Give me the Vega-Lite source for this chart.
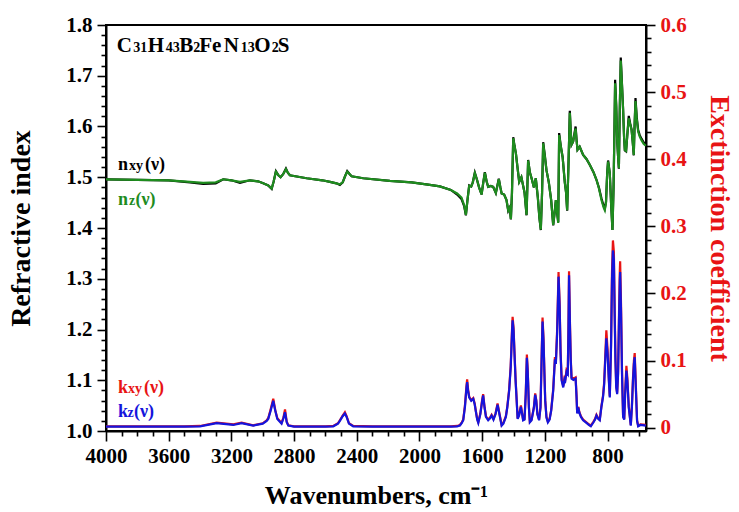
{
  "$schema": "https://vega.github.io/schema/vega-lite/v6.json",
  "width": 540,
  "height": 406,
  "autosize": {"type": "none"},
  "padding": {"left": 106, "top": 25, "right": 93, "bottom": 81},
  "background": "white",
  "config": {
    "view": {"stroke": "black", "strokeWidth": 2},
    "font": "Liberation Serif",
    "text": {"font": "Liberation Serif", "fontWeight": "bold", "align": "left", "baseline": "alphabetic"},
    "axis": {
      "grid": false,
      "labelFont": "Liberation Serif",
      "labelFontWeight": "bold",
      "labelFontSize": 21,
      "titleFont": "Liberation Serif",
      "titleFontWeight": "bold",
      "domainColor": "black",
      "domainWidth": 2,
      "tickColor": "black",
      "tickWidth": 1.6,
      "labelColor": "black",
      "titleColor": "black",
      "labelOverlap": false,
      "labelFlush": false,
      "labelBound": false
    }
  },
  "datasets": {
    "n": [
      {"wn": 4000, "nxy": 1.496, "nz": 1.496},
      {"wn": 3800, "nxy": 1.495, "nz": 1.495},
      {"wn": 3600, "nxy": 1.494, "nz": 1.494},
      {"wn": 3464, "nxy": 1.490, "nz": 1.491},
      {"wn": 3380, "nxy": 1.487, "nz": 1.489},
      {"wn": 3300, "nxy": 1.488, "nz": 1.490},
      {"wn": 3252, "nxy": 1.496, "nz": 1.496},
      {"wn": 3200, "nxy": 1.494, "nz": 1.494},
      {"wn": 3145, "nxy": 1.489, "nz": 1.491},
      {"wn": 3082, "nxy": 1.494, "nz": 1.494},
      {"wn": 3030, "nxy": 1.492, "nz": 1.492},
      {"wn": 2997, "nxy": 1.488, "nz": 1.488},
      {"wn": 2965, "nxy": 1.484, "nz": 1.484},
      {"wn": 2943, "nxy": 1.477, "nz": 1.478},
      {"wn": 2930, "nxy": 1.492, "nz": 1.492},
      {"wn": 2916, "nxy": 1.512, "nz": 1.511},
      {"wn": 2900, "nxy": 1.504, "nz": 1.504},
      {"wn": 2886, "nxy": 1.500, "nz": 1.500},
      {"wn": 2870, "nxy": 1.506, "nz": 1.506},
      {"wn": 2852, "nxy": 1.517, "nz": 1.516},
      {"wn": 2840, "nxy": 1.509, "nz": 1.509},
      {"wn": 2827, "nxy": 1.504, "nz": 1.504},
      {"wn": 2720, "nxy": 1.498, "nz": 1.498},
      {"wn": 2620, "nxy": 1.494, "nz": 1.494},
      {"wn": 2571, "nxy": 1.491, "nz": 1.491},
      {"wn": 2530, "nxy": 1.488, "nz": 1.488},
      {"wn": 2508, "nxy": 1.485, "nz": 1.486},
      {"wn": 2490, "nxy": 1.490, "nz": 1.490},
      {"wn": 2475, "nxy": 1.502, "nz": 1.502},
      {"wn": 2461, "nxy": 1.512, "nz": 1.511},
      {"wn": 2445, "nxy": 1.506, "nz": 1.506},
      {"wn": 2433, "nxy": 1.502, "nz": 1.502},
      {"wn": 2359, "nxy": 1.498, "nz": 1.498},
      {"wn": 2189, "nxy": 1.493, "nz": 1.493},
      {"wn": 2050, "nxy": 1.490, "nz": 1.490},
      {"wn": 1934, "nxy": 1.485, "nz": 1.485},
      {"wn": 1870, "nxy": 1.482, "nz": 1.482},
      {"wn": 1800, "nxy": 1.475, "nz": 1.475},
      {"wn": 1760, "nxy": 1.466, "nz": 1.468},
      {"wn": 1732, "nxy": 1.457, "nz": 1.460},
      {"wn": 1715, "nxy": 1.443, "nz": 1.445},
      {"wn": 1704, "nxy": 1.425, "nz": 1.426},
      {"wn": 1694, "nxy": 1.455, "nz": 1.455},
      {"wn": 1683, "nxy": 1.484, "nz": 1.483},
      {"wn": 1670, "nxy": 1.482, "nz": 1.482},
      {"wn": 1660, "nxy": 1.490, "nz": 1.490},
      {"wn": 1647, "nxy": 1.509, "nz": 1.508},
      {"wn": 1635, "nxy": 1.497, "nz": 1.497},
      {"wn": 1620, "nxy": 1.480, "nz": 1.480},
      {"wn": 1604, "nxy": 1.466, "nz": 1.466},
      {"wn": 1593, "nxy": 1.490, "nz": 1.490},
      {"wn": 1583, "nxy": 1.510, "nz": 1.509},
      {"wn": 1572, "nxy": 1.492, "nz": 1.492},
      {"wn": 1562, "nxy": 1.481, "nz": 1.481},
      {"wn": 1545, "nxy": 1.483, "nz": 1.483},
      {"wn": 1530, "nxy": 1.481, "nz": 1.481},
      {"wn": 1513, "nxy": 1.469, "nz": 1.469},
      {"wn": 1494, "nxy": 1.497, "nz": 1.496},
      {"wn": 1484, "nxy": 1.480, "nz": 1.480},
      {"wn": 1476, "nxy": 1.468, "nz": 1.468},
      {"wn": 1460, "nxy": 1.466, "nz": 1.466},
      {"wn": 1445, "nxy": 1.455, "nz": 1.455},
      {"wn": 1434, "nxy": 1.434, "nz": 1.435},
      {"wn": 1425, "nxy": 1.440, "nz": 1.440},
      {"wn": 1417, "nxy": 1.417, "nz": 1.418},
      {"wn": 1410, "nxy": 1.470, "nz": 1.470},
      {"wn": 1402, "nxy": 1.579, "nz": 1.577},
      {"wn": 1394, "nxy": 1.562, "nz": 1.562},
      {"wn": 1385, "nxy": 1.547, "nz": 1.547},
      {"wn": 1375, "nxy": 1.520, "nz": 1.520},
      {"wn": 1364, "nxy": 1.491, "nz": 1.491},
      {"wn": 1350, "nxy": 1.500, "nz": 1.500},
      {"wn": 1340, "nxy": 1.485, "nz": 1.485},
      {"wn": 1330, "nxy": 1.470, "nz": 1.470},
      {"wn": 1317, "nxy": 1.425, "nz": 1.426},
      {"wn": 1307, "nxy": 1.534, "nz": 1.533},
      {"wn": 1296, "nxy": 1.510, "nz": 1.510},
      {"wn": 1285, "nxy": 1.498, "nz": 1.498},
      {"wn": 1270, "nxy": 1.480, "nz": 1.480},
      {"wn": 1258, "nxy": 1.498, "nz": 1.498},
      {"wn": 1245, "nxy": 1.460, "nz": 1.460},
      {"wn": 1235, "nxy": 1.420, "nz": 1.420},
      {"wn": 1226, "nxy": 1.396, "nz": 1.397},
      {"wn": 1218, "nxy": 1.470, "nz": 1.470},
      {"wn": 1211, "nxy": 1.569, "nz": 1.567},
      {"wn": 1200, "nxy": 1.542, "nz": 1.540},
      {"wn": 1190, "nxy": 1.514, "nz": 1.514},
      {"wn": 1175, "nxy": 1.490, "nz": 1.490},
      {"wn": 1160, "nxy": 1.455, "nz": 1.455},
      {"wn": 1147, "nxy": 1.405, "nz": 1.406},
      {"wn": 1138, "nxy": 1.430, "nz": 1.430},
      {"wn": 1130, "nxy": 1.455, "nz": 1.455},
      {"wn": 1122, "nxy": 1.430, "nz": 1.430},
      {"wn": 1115, "nxy": 1.412, "nz": 1.410},
      {"wn": 1109, "nxy": 1.587, "nz": 1.583},
      {"wn": 1098, "nxy": 1.560, "nz": 1.560},
      {"wn": 1087, "nxy": 1.540, "nz": 1.540},
      {"wn": 1073, "nxy": 1.490, "nz": 1.490},
      {"wn": 1065, "nxy": 1.470, "nz": 1.470},
      {"wn": 1058, "nxy": 1.434, "nz": 1.435},
      {"wn": 1050, "nxy": 1.520, "nz": 1.520},
      {"wn": 1041, "nxy": 1.631, "nz": 1.627},
      {"wn": 1035, "nxy": 1.590, "nz": 1.590},
      {"wn": 1030, "nxy": 1.564, "nz": 1.564},
      {"wn": 1020, "nxy": 1.570, "nz": 1.570},
      {"wn": 1004, "nxy": 1.600, "nz": 1.596},
      {"wn": 997, "nxy": 1.570, "nz": 1.570},
      {"wn": 992, "nxy": 1.554, "nz": 1.554},
      {"wn": 978, "nxy": 1.560, "nz": 1.560},
      {"wn": 956, "nxy": 1.544, "nz": 1.544},
      {"wn": 935, "nxy": 1.536, "nz": 1.536},
      {"wn": 913, "nxy": 1.524, "nz": 1.524},
      {"wn": 890, "nxy": 1.510, "nz": 1.510},
      {"wn": 871, "nxy": 1.495, "nz": 1.495},
      {"wn": 855, "nxy": 1.479, "nz": 1.478},
      {"wn": 839, "nxy": 1.458, "nz": 1.455},
      {"wn": 825, "nxy": 1.443, "nz": 1.440},
      {"wn": 818, "nxy": 1.438, "nz": 1.435},
      {"wn": 810, "nxy": 1.452, "nz": 1.450},
      {"wn": 803, "nxy": 1.506, "nz": 1.505},
      {"wn": 797, "nxy": 1.533, "nz": 1.531},
      {"wn": 786, "nxy": 1.508, "nz": 1.508},
      {"wn": 778, "nxy": 1.450, "nz": 1.450},
      {"wn": 769, "nxy": 1.396, "nz": 1.396},
      {"wn": 762, "nxy": 1.480, "nz": 1.480},
      {"wn": 756, "nxy": 1.600, "nz": 1.600},
      {"wn": 752, "nxy": 1.692, "nz": 1.685},
      {"wn": 745, "nxy": 1.642, "nz": 1.640},
      {"wn": 739, "nxy": 1.573, "nz": 1.573},
      {"wn": 733, "nxy": 1.540, "nz": 1.540},
      {"wn": 728, "nxy": 1.517, "nz": 1.518},
      {"wn": 722, "nxy": 1.640, "nz": 1.640},
      {"wn": 716, "nxy": 1.736, "nz": 1.730},
      {"wn": 708, "nxy": 1.682, "nz": 1.680},
      {"wn": 701, "nxy": 1.633, "nz": 1.633},
      {"wn": 695, "nxy": 1.580, "nz": 1.580},
      {"wn": 690, "nxy": 1.553, "nz": 1.554},
      {"wn": 682, "nxy": 1.551, "nz": 1.552},
      {"wn": 675, "nxy": 1.580, "nz": 1.580},
      {"wn": 665, "nxy": 1.621, "nz": 1.616},
      {"wn": 656, "nxy": 1.606, "nz": 1.605},
      {"wn": 647, "nxy": 1.594, "nz": 1.593},
      {"wn": 640, "nxy": 1.570, "nz": 1.570},
      {"wn": 633, "nxy": 1.543, "nz": 1.544},
      {"wn": 628, "nxy": 1.600, "nz": 1.600},
      {"wn": 622, "nxy": 1.656, "nz": 1.650},
      {"wn": 614, "nxy": 1.618, "nz": 1.615},
      {"wn": 605, "nxy": 1.593, "nz": 1.590},
      {"wn": 595, "nxy": 1.583, "nz": 1.580},
      {"wn": 584, "nxy": 1.576, "nz": 1.573},
      {"wn": 570, "nxy": 1.569, "nz": 1.566},
      {"wn": 556, "nxy": 1.565, "nz": 1.562}
    ],
    "k": [
      {"wn": 4000, "kxy": 0.002, "kz": 0.0015},
      {"wn": 3500, "kxy": 0.002, "kz": 0.0015},
      {"wn": 3400, "kxy": 0.0025, "kz": 0.002},
      {"wn": 3294, "kxy": 0.0075, "kz": 0.0067},
      {"wn": 3188, "kxy": 0.005, "kz": 0.004},
      {"wn": 3135, "kxy": 0.0075, "kz": 0.0067},
      {"wn": 3061, "kxy": 0.0035, "kz": 0.003},
      {"wn": 3000, "kxy": 0.0065, "kz": 0.006},
      {"wn": 2975, "kxy": 0.011, "kz": 0.010},
      {"wn": 2965, "kxy": 0.014, "kz": 0.013},
      {"wn": 2950, "kxy": 0.027, "kz": 0.025},
      {"wn": 2933, "kxy": 0.043, "kz": 0.040},
      {"wn": 2920, "kxy": 0.026, "kz": 0.025},
      {"wn": 2907, "kxy": 0.014, "kz": 0.013},
      {"wn": 2880, "kxy": 0.007, "kz": 0.006},
      {"wn": 2868, "kxy": 0.015, "kz": 0.014},
      {"wn": 2858, "kxy": 0.027, "kz": 0.023},
      {"wn": 2847, "kxy": 0.009, "kz": 0.008},
      {"wn": 2837, "kxy": 0.0035, "kz": 0.003},
      {"wn": 2800, "kxy": 0.002, "kz": 0.0015},
      {"wn": 2600, "kxy": 0.002, "kz": 0.0015},
      {"wn": 2550, "kxy": 0.0025, "kz": 0.002},
      {"wn": 2520, "kxy": 0.0065, "kz": 0.006},
      {"wn": 2508, "kxy": 0.011, "kz": 0.010},
      {"wn": 2490, "kxy": 0.018, "kz": 0.017},
      {"wn": 2476, "kxy": 0.023, "kz": 0.021},
      {"wn": 2465, "kxy": 0.017, "kz": 0.016},
      {"wn": 2450, "kxy": 0.0065, "kz": 0.006},
      {"wn": 2423, "kxy": 0.0025, "kz": 0.002},
      {"wn": 2300, "kxy": 0.002, "kz": 0.0015},
      {"wn": 2000, "kxy": 0.002, "kz": 0.0015},
      {"wn": 1800, "kxy": 0.002, "kz": 0.0015},
      {"wn": 1760, "kxy": 0.0025, "kz": 0.002},
      {"wn": 1742, "kxy": 0.004, "kz": 0.0033},
      {"wn": 1730, "kxy": 0.008, "kz": 0.007},
      {"wn": 1721, "kxy": 0.012, "kz": 0.011},
      {"wn": 1710, "kxy": 0.033, "kz": 0.031},
      {"wn": 1700, "kxy": 0.063, "kz": 0.060},
      {"wn": 1696, "kxy": 0.072, "kz": 0.068},
      {"wn": 1690, "kxy": 0.057, "kz": 0.055},
      {"wn": 1683, "kxy": 0.046, "kz": 0.045},
      {"wn": 1670, "kxy": 0.041, "kz": 0.040},
      {"wn": 1657, "kxy": 0.044, "kz": 0.043},
      {"wn": 1648, "kxy": 0.036, "kz": 0.035},
      {"wn": 1642, "kxy": 0.027, "kz": 0.026},
      {"wn": 1632, "kxy": 0.013, "kz": 0.012},
      {"wn": 1625, "kxy": 0.008, "kz": 0.007},
      {"wn": 1612, "kxy": 0.021, "kz": 0.020},
      {"wn": 1600, "kxy": 0.042, "kz": 0.040},
      {"wn": 1594, "kxy": 0.050, "kz": 0.048},
      {"wn": 1585, "kxy": 0.031, "kz": 0.030},
      {"wn": 1576, "kxy": 0.017, "kz": 0.016},
      {"wn": 1562, "kxy": 0.012, "kz": 0.011},
      {"wn": 1550, "kxy": 0.015, "kz": 0.014},
      {"wn": 1540, "kxy": 0.019, "kz": 0.018},
      {"wn": 1528, "kxy": 0.013, "kz": 0.012},
      {"wn": 1515, "kxy": 0.021, "kz": 0.020},
      {"wn": 1502, "kxy": 0.036, "kz": 0.034},
      {"wn": 1490, "kxy": 0.021, "kz": 0.020},
      {"wn": 1476, "kxy": 0.004, "kz": 0.003},
      {"wn": 1465, "kxy": 0.007, "kz": 0.006},
      {"wn": 1449, "kxy": 0.017, "kz": 0.016},
      {"wn": 1440, "kxy": 0.031, "kz": 0.030},
      {"wn": 1428, "kxy": 0.057, "kz": 0.055},
      {"wn": 1418, "kxy": 0.093, "kz": 0.090},
      {"wn": 1410, "kxy": 0.144, "kz": 0.140},
      {"wn": 1406, "kxy": 0.165, "kz": 0.160},
      {"wn": 1400, "kxy": 0.149, "kz": 0.145},
      {"wn": 1394, "kxy": 0.113, "kz": 0.110},
      {"wn": 1387, "kxy": 0.072, "kz": 0.070},
      {"wn": 1380, "kxy": 0.041, "kz": 0.040},
      {"wn": 1374, "kxy": 0.014, "kz": 0.013},
      {"wn": 1365, "kxy": 0.019, "kz": 0.018},
      {"wn": 1353, "kxy": 0.033, "kz": 0.031},
      {"wn": 1345, "kxy": 0.021, "kz": 0.020},
      {"wn": 1339, "kxy": 0.012, "kz": 0.011},
      {"wn": 1330, "kxy": 0.013, "kz": 0.012},
      {"wn": 1322, "kxy": 0.052, "kz": 0.050},
      {"wn": 1315, "kxy": 0.109, "kz": 0.104},
      {"wn": 1310, "kxy": 0.088, "kz": 0.085},
      {"wn": 1307, "kxy": 0.068, "kz": 0.066},
      {"wn": 1302, "kxy": 0.031, "kz": 0.030},
      {"wn": 1296, "kxy": 0.009, "kz": 0.008},
      {"wn": 1285, "kxy": 0.012, "kz": 0.011},
      {"wn": 1270, "kxy": 0.031, "kz": 0.030},
      {"wn": 1262, "kxy": 0.051, "kz": 0.049},
      {"wn": 1255, "kxy": 0.041, "kz": 0.040},
      {"wn": 1248, "kxy": 0.021, "kz": 0.020},
      {"wn": 1237, "kxy": 0.012, "kz": 0.011},
      {"wn": 1228, "kxy": 0.031, "kz": 0.030},
      {"wn": 1220, "kxy": 0.114, "kz": 0.110},
      {"wn": 1215, "kxy": 0.164, "kz": 0.158},
      {"wn": 1209, "kxy": 0.134, "kz": 0.130},
      {"wn": 1203, "kxy": 0.082, "kz": 0.080},
      {"wn": 1198, "kxy": 0.041, "kz": 0.040},
      {"wn": 1190, "kxy": 0.016, "kz": 0.015},
      {"wn": 1181, "kxy": 0.009, "kz": 0.008},
      {"wn": 1170, "kxy": 0.013, "kz": 0.012},
      {"wn": 1160, "kxy": 0.026, "kz": 0.025},
      {"wn": 1147, "kxy": 0.057, "kz": 0.055},
      {"wn": 1140, "kxy": 0.088, "kz": 0.085},
      {"wn": 1136, "kxy": 0.105, "kz": 0.102},
      {"wn": 1130, "kxy": 0.098, "kz": 0.095},
      {"wn": 1122, "kxy": 0.145, "kz": 0.140},
      {"wn": 1113, "kxy": 0.232, "kz": 0.225},
      {"wn": 1106, "kxy": 0.186, "kz": 0.180},
      {"wn": 1100, "kxy": 0.114, "kz": 0.110},
      {"wn": 1093, "kxy": 0.072, "kz": 0.070},
      {"wn": 1083, "kxy": 0.062, "kz": 0.060},
      {"wn": 1075, "kxy": 0.074, "kz": 0.072},
      {"wn": 1070, "kxy": 0.072, "kz": 0.070},
      {"wn": 1062, "kxy": 0.086, "kz": 0.083},
      {"wn": 1054, "kxy": 0.083, "kz": 0.080},
      {"wn": 1050, "kxy": 0.145, "kz": 0.140},
      {"wn": 1046, "kxy": 0.233, "kz": 0.227},
      {"wn": 1040, "kxy": 0.155, "kz": 0.150},
      {"wn": 1035, "kxy": 0.103, "kz": 0.100},
      {"wn": 1030, "kxy": 0.075, "kz": 0.073},
      {"wn": 1018, "kxy": 0.073, "kz": 0.071},
      {"wn": 1004, "kxy": 0.075, "kz": 0.073},
      {"wn": 998, "kxy": 0.047, "kz": 0.045},
      {"wn": 994, "kxy": 0.022, "kz": 0.021},
      {"wn": 987, "kxy": 0.031, "kz": 0.030},
      {"wn": 980, "kxy": 0.023, "kz": 0.022},
      {"wn": 970, "kxy": 0.017, "kz": 0.016},
      {"wn": 956, "kxy": 0.012, "kz": 0.011},
      {"wn": 935, "kxy": 0.008, "kz": 0.007},
      {"wn": 920, "kxy": 0.005, "kz": 0.004},
      {"wn": 907, "kxy": 0.003, "kz": 0.002},
      {"wn": 890, "kxy": 0.009, "kz": 0.008},
      {"wn": 880, "kxy": 0.013, "kz": 0.012},
      {"wn": 871, "kxy": 0.019, "kz": 0.018},
      {"wn": 860, "kxy": 0.014, "kz": 0.013},
      {"wn": 850, "kxy": 0.012, "kz": 0.011},
      {"wn": 840, "kxy": 0.031, "kz": 0.030},
      {"wn": 829, "kxy": 0.048, "kz": 0.046},
      {"wn": 822, "kxy": 0.067, "kz": 0.064},
      {"wn": 815, "kxy": 0.106, "kz": 0.100},
      {"wn": 808, "kxy": 0.145, "kz": 0.133},
      {"wn": 800, "kxy": 0.116, "kz": 0.110},
      {"wn": 792, "kxy": 0.073, "kz": 0.070},
      {"wn": 786, "kxy": 0.047, "kz": 0.045},
      {"wn": 778, "kxy": 0.126, "kz": 0.120},
      {"wn": 772, "kxy": 0.231, "kz": 0.220},
      {"wn": 766, "kxy": 0.279, "kz": 0.264},
      {"wn": 760, "kxy": 0.262, "kz": 0.250},
      {"wn": 755, "kxy": 0.178, "kz": 0.170},
      {"wn": 750, "kxy": 0.105, "kz": 0.100},
      {"wn": 745, "kxy": 0.063, "kz": 0.060},
      {"wn": 739, "kxy": 0.052, "kz": 0.050},
      {"wn": 733, "kxy": 0.084, "kz": 0.080},
      {"wn": 728, "kxy": 0.158, "kz": 0.150},
      {"wn": 722, "kxy": 0.234, "kz": 0.220},
      {"wn": 720, "kxy": 0.248, "kz": 0.232},
      {"wn": 714, "kxy": 0.180, "kz": 0.170},
      {"wn": 708, "kxy": 0.084, "kz": 0.080},
      {"wn": 701, "kxy": 0.017, "kz": 0.016},
      {"wn": 694, "kxy": 0.013, "kz": 0.012},
      {"wn": 688, "kxy": 0.053, "kz": 0.050},
      {"wn": 680, "kxy": 0.092, "kz": 0.085},
      {"wn": 674, "kxy": 0.074, "kz": 0.070},
      {"wn": 665, "kxy": 0.032, "kz": 0.030},
      {"wn": 652, "kxy": 0.004, "kz": 0.003},
      {"wn": 645, "kxy": 0.032, "kz": 0.030},
      {"wn": 638, "kxy": 0.074, "kz": 0.070},
      {"wn": 632, "kxy": 0.100, "kz": 0.095},
      {"wn": 627, "kxy": 0.111, "kz": 0.105},
      {"wn": 620, "kxy": 0.064, "kz": 0.060},
      {"wn": 612, "kxy": 0.011, "kz": 0.010},
      {"wn": 605, "kxy": 0.003, "kz": 0.002},
      {"wn": 590, "kxy": 0.005, "kz": 0.004},
      {"wn": 556, "kxy": 0.004, "kz": 0.003}
    ]
  },
  "resolve": {"scale": {"y": "independent"}, "axis": {"x": "independent", "y": "independent"}},
  "layer": [
    {
      "resolve": {"axis": {"x": "independent", "y": "independent"}},
      "layer": [
        {
          "data": {"name": "n"},
          "mark": {"type": "line", "color": "black", "strokeWidth": 2.2},
          "encoding": {
            "x": {
              "field": "wn", "type": "quantitative",
              "scale": {"domain": [555, 4000], "reverse": true, "nice": false, "zero": false},
              "axis": {
                "orient": "bottom",
                "values": [4000, 3600, 3200, 2800, 2400, 2000, 1600, 1200, 800],
                "format": "d",
                "tickSize": 10,
                "labelOverlap": false,
                "labelPadding": 4,
                "title": "Wavenumbers, cm⁻¹",
                "titleFontSize": 26,
                "titleX": 270,
                "titleY": 72,
                "titleBaseline": "alphabetic"
              }
            },
            "y": {
              "field": "nxy", "type": "quantitative",
              "scale": {"domain": [1.0, 1.8], "nice": false, "zero": false},
              "axis": {
                "orient": "left",
                "values": [1.0, 1.1, 1.2, 1.3, 1.4, 1.5, 1.6, 1.7, 1.8],
                "format": ".1f",
                "tickSize": 9,
                "labelOverlap": false,
                "labelPadding": 5,
                "title": "Refractive index",
                "titleFontSize": 28,
                "titleX": -77,
                "titleY": 203,
                "titleAngle": 270,
                "titleBaseline": "alphabetic"
              }
            }
          }
        },
        {
          "data": {"name": "n"},
          "mark": {"type": "line", "color": "#1e8c1e", "strokeWidth": 2.2},
          "encoding": {
            "x": {
              "field": "wn", "type": "quantitative",
              "scale": {"domain": [555, 4000], "reverse": true, "nice": false, "zero": false},
              "axis": {
                "orient": "bottom",
                "values": [3900, 3800, 3700, 3500, 3400, 3300, 3100, 3000, 2900, 2700, 2600, 2500, 2300, 2200, 2100, 1900, 1800, 1700, 1500, 1400, 1300, 1100, 1000, 900, 700, 600],
                "tickSize": 5,
                "labels": false,
                "domain": false,
                "title": null
              }
            },
            "y": {
              "field": "nz", "type": "quantitative",
              "scale": {"domain": [1.0, 1.8], "nice": false, "zero": false},
              "axis": {
                "orient": "left",
                "values": [1.02, 1.04, 1.06, 1.08, 1.12, 1.14, 1.16, 1.18, 1.22, 1.24, 1.26, 1.28, 1.32, 1.34, 1.36, 1.38, 1.42, 1.44, 1.46, 1.48, 1.52, 1.54, 1.56, 1.58, 1.62, 1.64, 1.66, 1.68, 1.72, 1.74, 1.76, 1.78],
                "tickSize": 5,
                "labels": false,
                "domain": false,
                "title": null
              }
            }
          }
        },
        {
          "data": {"values": [{}]},
          "encoding": {
            "x": {"datum": 3932, "type": "quantitative", "axis": null, "scale": {"domain": [555, 4000], "reverse": true, "nice": false, "zero": false}},
            "y": {"datum": 1.7474, "type": "quantitative", "axis": null, "scale": {"domain": [1.0, 1.8], "nice": false, "zero": false}}
          },
          "layer": [
            {"mark": {"type": "text", "text": "C", "fontSize": 21, "color": "black", "dx": 0}},
            {"mark": {"type": "text", "text": "31", "fontSize": 14, "color": "black", "dx": 16.5}},
            {"mark": {"type": "text", "text": "H", "fontSize": 21, "color": "black", "dx": 31}},
            {"mark": {"type": "text", "text": "43", "fontSize": 14, "color": "black", "dx": 49}},
            {"mark": {"type": "text", "text": "B", "fontSize": 21, "color": "black", "dx": 62.5}},
            {"mark": {"type": "text", "text": "2", "fontSize": 14, "color": "black", "dx": 76.5}},
            {"mark": {"type": "text", "text": "Fe", "fontSize": 21, "color": "black", "dx": 82.5}},
            {"mark": {"type": "text", "text": "N", "fontSize": 21, "color": "black", "dx": 107}},
            {"mark": {"type": "text", "text": "13", "fontSize": 14, "color": "black", "dx": 124}},
            {"mark": {"type": "text", "text": "O", "fontSize": 21, "color": "black", "dx": 137.5}},
            {"mark": {"type": "text", "text": "2", "fontSize": 14, "color": "black", "dx": 155}},
            {"mark": {"type": "text", "text": "S", "fontSize": 21, "color": "black", "dx": 161}}
          ]
        },
        {
          "data": {"values": [{}]},
          "encoding": {
            "x": {"datum": 3923, "type": "quantitative", "axis": null, "scale": {"domain": [555, 4000], "reverse": true, "nice": false, "zero": false}},
            "y": {"datum": 1.514, "type": "quantitative", "axis": null, "scale": {"domain": [1.0, 1.8], "nice": false, "zero": false}}
          },
          "layer": [
            {"mark": {"type": "text", "text": "n", "fontSize": 18, "color": "black", "dx": 0}},
            {"mark": {"type": "text", "text": "xy", "fontSize": 14, "color": "black", "dx": 11}},
            {"mark": {"type": "text", "text": "(ν)", "fontSize": 18, "color": "black", "dx": 27}}
          ]
        },
        {
          "data": {"values": [{}]},
          "encoding": {
            "x": {"datum": 3923, "type": "quantitative", "axis": null, "scale": {"domain": [555, 4000], "reverse": true, "nice": false, "zero": false}},
            "y": {"datum": 1.445, "type": "quantitative", "axis": null, "scale": {"domain": [1.0, 1.8], "nice": false, "zero": false}}
          },
          "layer": [
            {"mark": {"type": "text", "text": "n", "fontSize": 18, "color": "#1e8c1e", "dx": 0}},
            {"mark": {"type": "text", "text": "z", "fontSize": 14, "color": "#1e8c1e", "dx": 11}},
            {"mark": {"type": "text", "text": "(ν)", "fontSize": 18, "color": "#1e8c1e", "dx": 17.5}}
          ]
        },
        {
          "data": {"values": [{}]},
          "encoding": {
            "x": {"datum": 3923, "type": "quantitative", "axis": null, "scale": {"domain": [555, 4000], "reverse": true, "nice": false, "zero": false}},
            "y": {"datum": 1.075, "type": "quantitative", "axis": null, "scale": {"domain": [1.0, 1.8], "nice": false, "zero": false}}
          },
          "layer": [
            {"mark": {"type": "text", "text": "k", "fontSize": 18, "color": "#e81414", "dx": 0}},
            {"mark": {"type": "text", "text": "xy", "fontSize": 14, "color": "#e81414", "dx": 10}},
            {"mark": {"type": "text", "text": "(ν)", "fontSize": 18, "color": "#e81414", "dx": 26}}
          ]
        },
        {
          "data": {"values": [{}]},
          "encoding": {
            "x": {"datum": 3923, "type": "quantitative", "axis": null, "scale": {"domain": [555, 4000], "reverse": true, "nice": false, "zero": false}},
            "y": {"datum": 1.028, "type": "quantitative", "axis": null, "scale": {"domain": [1.0, 1.8], "nice": false, "zero": false}}
          },
          "layer": [
            {"mark": {"type": "text", "text": "k", "fontSize": 18, "color": "#1414dc", "dx": 0}},
            {"mark": {"type": "text", "text": "z", "fontSize": 14, "color": "#1414dc", "dx": 9.5}},
            {"mark": {"type": "text", "text": "(ν)", "fontSize": 18, "color": "#1414dc", "dx": 16}}
          ]
        }
      ]
    },
    {
      "data": {"name": "k"},
      "resolve": {"axis": {"x": "independent", "y": "independent"}},
      "layer": [
        {
          "mark": {"type": "line", "color": "#e81414", "strokeWidth": 2.2},
          "encoding": {
            "x": {"field": "wn", "type": "quantitative", "axis": null, "scale": {"domain": [555, 4000], "reverse": true, "nice": false, "zero": false}},
            "y": {
              "field": "kxy", "type": "quantitative",
              "scale": {"domain": [-0.005, 0.6], "nice": false, "zero": false},
              "axis": {
                "orient": "right",
                "values": [0, 0.1, 0.2, 0.3, 0.4, 0.5, 0.6],
                "format": ".1~f",
                "tickSize": 9,
                "labelOverlap": false,
                "labelPadding": 5,
                "labelColor": "#e81414",
                "title": "Exctinction coefficient",
                "titleColor": "#e81414",
                "titleFontSize": 28,
                "titleX": 64,
                "titleY": 203,
                "titleAngle": 90,
                "titleBaseline": "alphabetic"
              }
            }
          }
        },
        {
          "mark": {"type": "line", "color": "#1414dc", "strokeWidth": 2.2},
          "encoding": {
            "x": {"field": "wn", "type": "quantitative", "axis": null, "scale": {"domain": [555, 4000], "reverse": true, "nice": false, "zero": false}},
            "y": {
              "field": "kz", "type": "quantitative",
              "scale": {"domain": [-0.005, 0.6], "nice": false, "zero": false},
              "axis": {
                "orient": "right",
                "values": [0.02, 0.04, 0.06, 0.08, 0.12, 0.14, 0.16, 0.18, 0.22, 0.24, 0.26, 0.28, 0.32, 0.34, 0.36, 0.38, 0.42, 0.44, 0.46, 0.48, 0.52, 0.54, 0.56, 0.58],
                "tickSize": 5,
                "labels": false,
                "domain": false,
                "title": null
              }
            }
          }
        }
      ]
    }
  ]
}
